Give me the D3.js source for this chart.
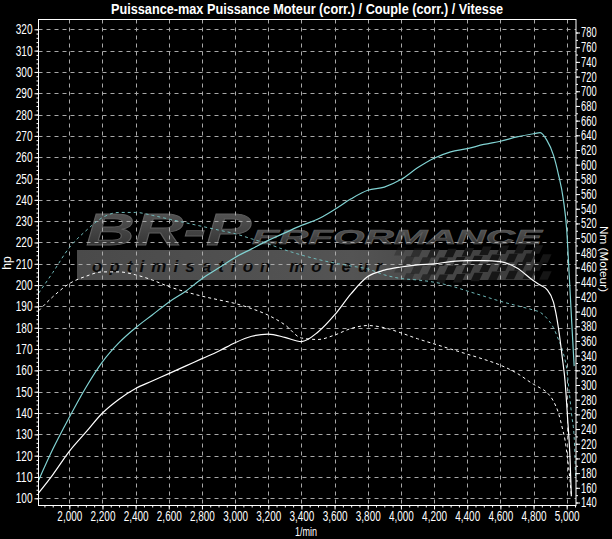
<!DOCTYPE html>
<html><head><meta charset="utf-8">
<script src="https://cdn.jsdelivr.net/npm/d3@7"></script>
<style>
html,body{margin:0;padding:0;background:#000;}
svg{display:block;}
text{font-family:"Liberation Sans","Arial",sans-serif;}
</style></head>
<body>
<svg id="chart" width="612" height="539"></svg>
<script>
// ---------- DATA ----------
const title = "Puissance-max Puissance Moteur (corr.) / Couple (corr.) / Vitesse";
const xTicks = [2000,2200,2400,2600,2800,3000,3200,3400,3600,3800,4000,4200,4400,4600,4800,5000];
const hpTicks = [100,110,120,130,140,150,160,170,180,190,200,210,220,230,240,250,260,270,280,290,300,310,320];
const nmTicks = d3.range(140, 781, 20);

// Run 1 (cyan): power (hp) and torque (Nm)
const rpm1 = [1815,1900,2000,2100,2200,2300,2400,2500,2600,2700,2800,2900,3000,3100,3200,3300,3400,3500,3600,3700,3800,3900,4000,4100,4200,4300,4400,4500,4600,4700,4800,4840,4880,4920,4950,4980,5000,5015,5030,5045];
const power1 = [108.5,123,138,152,164,173,180,186,192,197,203,208,213,217,221,224.5,228,231,235.5,240.5,244.5,246,249.5,255,259.5,262.5,264,266,267.5,269.5,271,271.5,268,261,252,240,226,205,183,162];
const rpm1t = [1815,1900,2000,2100,2200,2300,2400,2500,2600,2700,2800,2900,3000,3100,3200,3300,3400,3500,3600,3700,3800,3900,4000,4100,4200,4300,4400,4500,4600,4700,4800,4840,4880,4920,4950,4980,5000,5015,5030,5045,5054];
const torque1 = [425,453,487,510,528,535,535,531,526,521,516,511,506,499,492,484,477,471,466,462,458,450,445,443,440,435,428,421,414,408,402,399,391,378,362,343,322,291,259,229,172];

// Run 2 (white): power (hp) and torque (Nm)
const rpm2 = [1815,1900,2000,2100,2200,2300,2400,2500,2600,2700,2800,2900,3000,3100,3200,3300,3400,3500,3600,3700,3800,3900,4000,4100,4200,4300,4400,4500,4600,4700,4800,4840,4880,4920,4950,4975,4990,5005,5020,5028];
const power2 = [102.5,111,122,131,140,146.5,151.5,155,158.5,162,165.5,169,173,176,177,175.5,173.5,178,186,196,204,207,208.5,209.5,210,211,211.5,211.5,211,208,202,200,198,192,180,165,155,138,119,101];
const torque2 = [401,420,438,448,454,454,450,443,434,427,421,416,411,404,395,382,364,362,368,377,381,378,371,363,356,349,342,335,327,316,301,296,290,278,262,240,225,200,170,150];

// ---------- LAYOUT ----------
const svg = d3.select("#chart");
const L = 38.5, R = 576, T = 19.5, B = 505.5;
const x = d3.scaleLinear().domain([2000,5000]).range([69.3,566.7]);
const yL = d3.scaleLinear().domain([100,320]).range([498.3,29.3]);
const yR = d3.scaleLinear().domain([140,780]).range([502.5,32.5]);

// condensed text helper: width from character count
function narrow(sel, digitW, commaW){
  sel.each(function(){
    const t = d3.select(this).text();
    if(!t) return;
    let w = 0;
    for (const ch of t) w += (ch===","||ch==="."||ch==="/") ? commaW : digitW;
    d3.select(this).attr("textLength", w).attr("lengthAdjust","spacingAndGlyphs");
  });
}

svg.append("rect").attr("width",612).attr("height",539).attr("fill","#000");

const defs = svg.append("defs");
defs.append("clipPath").attr("id","clip")
  .append("rect").attr("x",L).attr("y",T).attr("width",R-L).attr("height",B-T);

// ---------- WATERMARK ----------
const wm = svg.append("g").attr("clip-path","url(#clip)");
const g1 = defs.append("linearGradient").attr("id","txtgrad").attr("x1",0).attr("y1",0).attr("x2",0).attr("y2",1);
g1.append("stop").attr("offset","0%").attr("stop-color","#5a5a5a");
g1.append("stop").attr("offset","100%").attr("stop-color","#2e2e2e");
const g2 = defs.append("linearGradient").attr("id","bandgrad").attr("x1",0).attr("y1",0).attr("x2",1).attr("y2",0);
g2.append("stop").attr("offset","0%").attr("stop-color","#4a4a4a");
g2.append("stop").attr("offset","60%").attr("stop-color","#545454");
g2.append("stop").attr("offset","100%").attr("stop-color","#3a3a3a");

wm.append("rect").attr("x",77).attr("y",250).attr("width",458).attr("height",30).attr("fill","url(#bandgrad)");
// checkered flag
const chk = wm.append("g").attr("transform","translate(398,247) skewX(-25)");
const sq = 8.5;
for (let c=0;c<18;c++){
  for (let r=0;r<4;r++){
    if ((c+r)%2===0){
      chk.append("rect").attr("x",c*sq+(r*4)).attr("y",r*sq+Math.sin(c/3)*2)
        .attr("width",sq).attr("height",sq).attr("fill","#161616")
        .attr("opacity",Math.min(1,0.3+c/9));
    }
  }
}
wm.append("text").attr("x",92).attr("y",272).attr("font-family","DejaVu Sans, sans-serif")
  .attr("font-weight","bold").attr("font-style","italic").attr("font-size",17)
  .attr("textLength",290).attr("lengthAdjust","spacing").attr("fill","#0a0a0a")
  .text("optimisation moteur");
wm.append("text").attr("x",86).attr("y",245).attr("font-family","DejaVu Sans, sans-serif")
  .attr("font-weight","bold").attr("font-style","italic").attr("font-size",44)
  .attr("textLength",165).attr("lengthAdjust","spacingAndGlyphs")
  .attr("fill","url(#txtgrad)").attr("stroke","#5e5e5e").attr("stroke-width",0.8)
  .text("BR-P");
wm.append("text").attr("x",252).attr("y",244).attr("font-family","DejaVu Sans, sans-serif")
  .attr("font-weight","bold").attr("font-style","italic").attr("font-size",21)
  .attr("textLength",290).attr("lengthAdjust","spacingAndGlyphs")
  .attr("fill","url(#txtgrad)").attr("stroke","#5e5e5e").attr("stroke-width",0.6)
  .text("ERFORMANCE");

// ---------- GRID ----------
const grid = svg.append("g").attr("stroke","#a8a8a8").attr("stroke-width",1).attr("stroke-dasharray","4,4");
grid.selectAll("line.h").data(hpTicks).join("line")
  .attr("x1",L).attr("x2",R).attr("y1",d=>Math.round(yL(d))+0.5).attr("y2",d=>Math.round(yL(d))+0.5);
grid.selectAll("line.v").data(xTicks).join("line")
  .attr("y1",T).attr("y2",B).attr("x1",d=>Math.round(x(d))+0.5).attr("x2",d=>Math.round(x(d))+0.5);

// ---------- CURVES ----------
const curves = svg.append("g").attr("clip-path","url(#clip)").attr("fill","none");
function draw(rpms, vals, scale, color, dash, w){
  const pts = rpms.map((r,i)=>[r,vals[i]]);
  const line = d3.line().x(d=>x(d[0])).y(d=>scale(d[1])).curve(d3.curveMonotoneX);
  curves.append("path").attr("d",line(pts)).attr("stroke",color)
    .attr("stroke-width",w).attr("stroke-dasharray",dash);
}
draw(rpm1t, torque1, yR, "#6fb9b9", "3,3", 1);
draw(rpm2, torque2, yR, "#ffffff", "3,3", 1);
draw(rpm2, power2, yL, "#ffffff", null, 1.2);
draw(rpm1, power1, yL, "#80d2d2", null, 1.2);

// ---------- AXES ----------
const axisCol = "#ffffff";
svg.append("rect").attr("x",L).attr("y",T).attr("width",R-L).attr("height",B-T)
  .attr("fill","none").attr("stroke",axisCol).attr("stroke-width",1);

const gl = svg.append("g").attr("transform",`translate(${L},0)`)
  .call(d3.axisLeft(yL).tickValues(hpTicks).tickSize(4).tickPadding(2).tickFormat(d3.format("d")));
svg.append("g").attr("transform",`translate(${L},0)`)
  .call(d3.axisLeft(yL).tickValues(d3.range(100,321,2)).tickSize(2).tickFormat(""));

const gr = svg.append("g").attr("transform",`translate(${R},0)`)
  .call(d3.axisRight(yR).tickValues(nmTicks).tickSize(4).tickPadding(1).tickFormat(d3.format("d")));
svg.append("g").attr("transform",`translate(${R},0)`)
  .call(d3.axisRight(yR).tickValues(d3.range(140,781,10)).tickSize(2).tickFormat(""));

const gb = svg.append("g").attr("transform",`translate(0,${B})`)
  .call(d3.axisBottom(x).tickValues(xTicks).tickSize(4).tickPadding(2).tickFormat(d3.format(",d")));
svg.append("g").attr("transform",`translate(0,${B})`)
  .call(d3.axisBottom(x).tickValues(d3.range(1850,5051,50)).tickSize(2).tickFormat(""));

svg.selectAll(".domain").remove();
svg.selectAll(".tick line").attr("stroke",axisCol);
svg.selectAll(".tick text").attr("fill","#fff").attr("font-size",14)
  .attr("font-family","'Liberation Sans',Arial,sans-serif");
narrow(gl.selectAll(".tick text"), 5.6, 2.5);
narrow(gr.selectAll(".tick text"), 5.2, 2.5);
narrow(gb.selectAll(".tick text"), 5.6, 2.5);

// ---------- TEXTS ----------
svg.append("text").attr("x",307).attr("y",14).attr("text-anchor","middle")
  .attr("fill","#fff").attr("font-weight","bold").attr("font-size",14)
  .attr("textLength",392).attr("lengthAdjust","spacingAndGlyphs").text(title);
svg.append("text").attr("x",306).attr("y",536).attr("text-anchor","middle")
  .attr("fill","#fff").attr("font-size",12).attr("textLength",22).attr("lengthAdjust","spacingAndGlyphs").text("1/min");
svg.append("text").attr("transform","translate(11,263) rotate(-90)").attr("text-anchor","middle")
  .attr("fill","#fff").attr("font-size",12).text("hp");
svg.append("text").attr("transform","translate(600,259) rotate(90)").attr("text-anchor","middle")
  .attr("fill","#fff").attr("font-size",11).attr("textLength",66).attr("lengthAdjust","spacingAndGlyphs").text("Nm (Moteur)");
</script>
</body></html>
